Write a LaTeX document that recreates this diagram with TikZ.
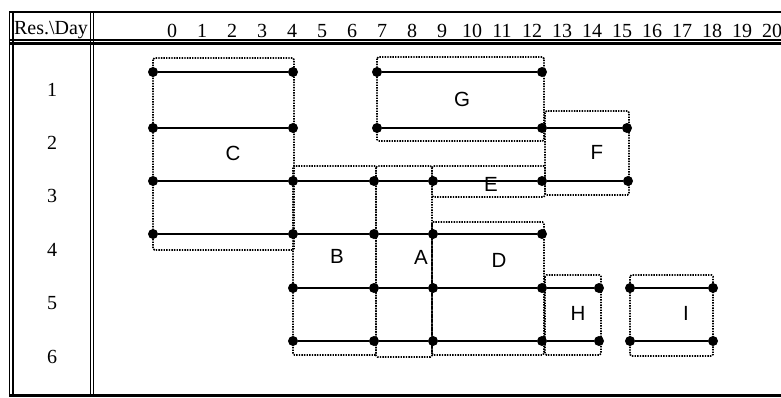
\documentclass[tikz,border=0pt]{standalone}
\usepackage{fontspec}
\setmainfont{Liberation Serif}
\newfontfamily\lettersf{Liberation Sans}
\begin{document}
\begin{tikzpicture}[x=1pt,y=-1pt,
  dot/.style={circle,fill=black,inner sep=0pt,minimum size=10pt},
  edge/.style={line width=2pt},
  grp/.style={line width=1.7pt,dash pattern=on 1.4pt off 1.2pt,rounded corners=1.5pt},
  frame/.style={line width=1.3pt},
  hdr/.style={font=\fontsize{20}{23}\selectfont,inner sep=0pt},
  lbl/.style={font=\lettersf\fontsize{20.5}{23}\selectfont,inner sep=0pt}]
\useasboundingbox (0,0) rectangle (781,397);
% table frame
\draw[frame] (9,12) -- (781,12);
\draw[line width=1.2pt] (9,40) -- (781,40);
\draw[line width=2.2pt] (9,43.5) -- (781,43.5);
\draw[line width=2.2pt] (9,395.5) -- (781,395.5);
\draw[line width=1.4pt] (9.5,12) -- (9.5,396);
\draw[line width=1.7pt] (13,12) -- (13,396);
\draw[line width=1.4pt] (90.5,12) -- (90.5,396);
\draw[line width=1.7pt] (93.5,12) -- (93.5,396);
% headers
\node[hdr] (hd) at (51,30) {Res.\textbackslash Day};
\foreach \k in {0,...,20} {
  \node[hdr] (day\k) at ({172+30*\k},31) {\k};
}
\foreach \r/\y in {1/90,2/143,3/196,4/250,5/303,6/357} {
  \node[hdr] (res\r) at (52,\y) {\r};
}
% group boxes
\draw[grp] (153,58) rectangle (294,250);
\draw[grp] (377,57) rectangle (544,141);
\draw[grp] (545,111) rectangle (629,195);
\draw[grp] (432,166) rectangle (545,197);
\draw[grp] (293,166) rectangle (376,355);
\draw[grp] (376,166) rectangle (432,357);
\draw[grp] (432,222) rectangle (544,355);
\draw[grp] (545,275) rectangle (601,355);
\draw[grp] (630,275) rectangle (713,356);
% dots
% row 1
\node[dot] (r1a) at (153,72) {};
\node[dot] (r1b) at (293,72) {};
\node[dot] (r1g) at (377,72) {};
\node[dot] (r1e) at (542,72) {};
% row 2
\node[dot] (r2a) at (153,128) {};
\node[dot] (r2b) at (293,128) {};
\node[dot] (r2g) at (377,128) {};
\node[dot] (r2e) at (542,128) {};
\node[dot] (r2f) at (627,128) {};
% row 3
\node[dot] (r3a) at (153,181) {};
\node[dot] (r3b) at (293,181) {};
\node[dot] (r3c) at (374,181) {};
\node[dot] (r3d) at (433,181) {};
\node[dot] (r3e) at (542,181) {};
\node[dot] (r3f) at (628,181) {};
% row 4
\node[dot] (r4a) at (153,234) {};
\node[dot] (r4b) at (293,234) {};
\node[dot] (r4c) at (374,234) {};
\node[dot] (r4d) at (433,234) {};
\node[dot] (r4e) at (542,234) {};
% rows 5 and 6
\foreach \r/\y in {5/288,6/341} {
  \node[dot] (r\r b) at (293,\y) {};
  \node[dot] (r\r c) at (374,\y) {};
  \node[dot] (r\r d) at (433,\y) {};
  \node[dot] (r\r e) at (542,\y) {};
  \node[dot] (r\r h) at (599,\y) {};
  \node[dot] (r\r i) at (630,\y) {};
  \node[dot] (r\r j) at (713,\y) {};
}
% edges
\draw[edge] (r1a) -- (r1b);
\draw[edge] (r1g) -- (r1e);
\draw[edge] (r2a) -- (r2b);
\draw[edge] (r2g) -- (r2e);
\draw[edge] (r2e) -- (r2f);
\draw[edge] (r3a) -- (r3b);
\draw[edge] (r3b) -- (r3c);
\draw[edge] (r3c) -- (r3d);
\draw[edge] (r3d) -- (r3e);
\draw[edge] (r3e) -- (r3f);
\draw[edge] (r4a) -- (r4b);
\draw[edge] (r4b) -- (r4c);
\draw[edge] (r4c) -- (r4d);
\draw[edge] (r4d) -- (r4e);
\foreach \r in {5,6} {
  \draw[edge] (r\r b) -- (r\r c);
  \draw[edge] (r\r c) -- (r\r d);
  \draw[edge] (r\r d) -- (r\r e);
  \draw[edge] (r\r e) -- (r\r h);
  \draw[edge] (r\r i) -- (r\r j);
}
% group labels
\node[lbl] (lC) at (233,153) {C};
\node[lbl] (lG) at (462,99) {G};
\node[lbl] (lF) at (597,152) {F};
\node[lbl] (lE) at (491,184) {E};
\node[lbl] (lB) at (337,256) {B};
\node[lbl] (lA) at (421,257) {A};
\node[lbl] (lD) at (499,260) {D};
\node[lbl] (lH) at (578,313) {H};
\node[lbl] (lI) at (686,313) {I};
\end{tikzpicture}
\end{document}
